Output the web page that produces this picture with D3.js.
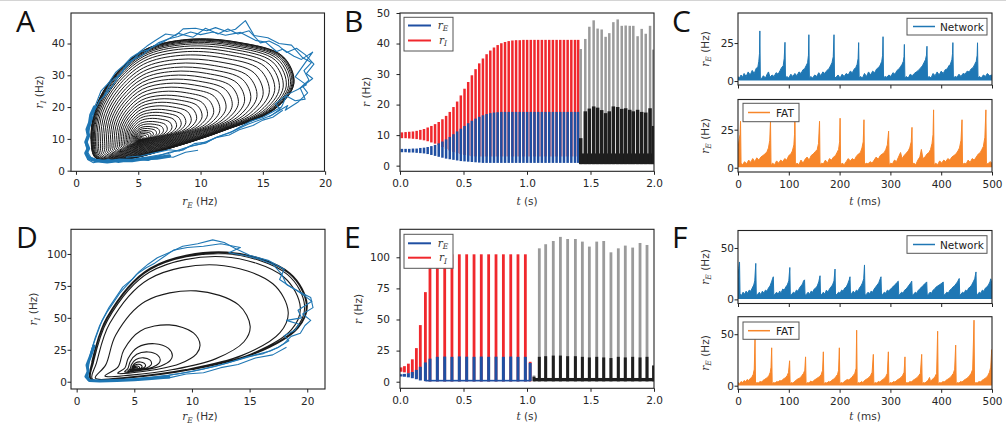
<!DOCTYPE html>
<html>
<head>
<meta charset="utf-8">
<script src="https://cdn.jsdelivr.net/npm/d3@7"></script>
<style>
  body { margin: 0; background: #fff; }
</style>
</head>
<body>
<svg id="fig" width="1006" height="431"></svg>
<script>
// ---------- data ----------

// A / D : phase plane, limit-cycle outline (counter-clockwise) and spiral turn sizes
var aShapeE = [1.6, 4.0, 8.0, 12.0, 16.0, 17.5, 16.6, 13.0, 9.0, 5.5, 3.0, 1.6, 1.2];
var aShapeI = [3.9, 3.6, 7.6, 12.8, 19.5, 27.5, 36.0, 40.4, 41.3, 38.0, 29.5, 20.0, 10.0];
var aCenter = [5.1, 9.8];
var aTurns = [0.01, 0.02, 0.03, 0.045, 0.06, 0.075, 0.09, 0.11, 0.13, 0.155, 0.18, 0.21, 0.24, 0.27,
  0.30, 0.335, 0.37, 0.405, 0.44, 0.48, 0.52, 0.56, 0.60, 0.64, 0.68, 0.72, 0.76, 0.80, 0.84, 0.875,
  0.905, 0.93, 0.95, 0.965, 0.977, 0.986, 0.993, 0.998, 1.0];

var dShapeE = [1.2, 4.5, 10.0, 15.5, 19.2, 20.0, 18.5, 13.0, 6.4, 2.6, 1.3];
var dShapeI = [2.0, 3.0, 9.5, 22.0, 42.0, 60.0, 85.0, 101.5, 89.0, 50.0, 15.0];
var dCenter = [5.0, 9.5];
var dTurns = [0.012, 0.02, 0.03, 0.045, 0.065, 0.1, 0.15, 0.22, 0.38, 0.67, 0.89, 0.96, 0.985, 0.995, 1.0];

// noisy network trajectories [rE, rI]
var aNoisy = [
  [[1.0,4.5],[2.0,2.8],[3.0,3.2],[4.2,3.0],[5.5,4.0],[6.5,4.5],[7.5,5.8],[8.6,6.5],[9.5,8.5],[10.5,9.0],[11.5,10.8],[12.4,12.0],[13.2,13.8],[14.0,15.5],[15.0,16.8],[15.8,18.5],[16.5,20.0],[16.9,23.5],[17.6,22.0],[18.4,22.5],[18.0,26.0],[18.7,28.5],[18.3,31.5],[18.9,34.0],[18.2,35.5],[17.3,39.5],[16.3,40.0],[15.4,41.8],[14.3,42.5],[13.6,47.2],[12.8,44.5],[12.1,43.8],[11.2,45.0],[10.5,44.0],[9.6,44.8],[8.6,44.6],[8.0,42.5],[7.2,43.0],[6.4,41.0],[5.7,39.2],[5.0,37.0],[4.4,35.5],[3.8,33.0],[3.2,31.0],[2.6,27.5],[2.0,25.0],[1.6,21.0],[1.2,17.0],[1.0,12.0],[0.8,8.0],[1.0,4.5]],
  [[1.3,3.5],[2.5,2.6],[3.8,3.4],[5.0,3.6],[6.2,4.6],[7.4,5.4],[8.8,7.2],[10.0,8.4],[11.3,10.5],[12.6,12.4],[13.8,14.6],[14.9,16.2],[15.7,17.4],[16.4,19.4],[16.0,21.0],[17.0,24.0],[17.8,25.5],[18.5,27.0],[17.6,29.5],[19.0,37.3],[18.1,35.0],[17.5,36.0],[16.6,38.2],[16.1,37.5],[15.2,40.5],[14.4,41.0],[13.2,43.5],[12.0,42.6],[11.0,43.6],[10.0,42.8],[9.2,43.6],[8.2,42.2],[7.4,41.4],[6.6,40.2],[5.8,38.0],[5.2,37.4],[4.6,35.0],[3.9,32.0],[3.4,29.5],[2.9,26.5],[2.4,24.0],[1.9,22.0],[1.5,19.0],[1.2,15.0],[0.9,10.5],[0.9,6.0],[1.3,3.5]],
  [[15.5,17.0],[16.2,18.6],[17.0,20.5],[16.8,19.0],[17.8,21.5],[18.6,24.5],[18.2,26.5],[19.0,29.0],[18.5,30.5],[19.1,33.5],[18.4,36.5],[17.7,38.5],[16.9,37.2],[16.3,39.2],[15.5,40.8],[14.8,40.2],[13.9,44.0],[13.0,43.0],[12.2,44.6],[11.4,43.0],[10.4,44.8],[9.4,42.0],[8.2,43.2],[7.0,40.5],[6.0,38.6],[5.3,36.2],[4.2,34.2],[3.6,30.5],[2.8,28.0],[2.2,23.0]],
  [[4.0,4.2],[5.2,4.6],[6.3,5.6],[7.5,6.6],[8.3,6.2],[9.2,7.8],[10.4,8.6],[11.2,10.4],[12.3,11.2],[13.1,12.9],[14.2,14.2],[15.0,15.9],[15.8,16.8],[16.6,19.0]],
  [[0.9,3.6],[1.4,2.5],[2.6,3.6],[3.4,2.6],[4.6,3.5],[5.8,3.2],[6.8,4.6],[7.8,4.2],[8.8,5.8],[9.8,6.4]]
];
var aBand = [[7.5,4.6],[6.5,4.0],[5.5,3.8],[4.5,3.2],[3.5,3.3],[2.5,2.8],[1.6,3.2],[1.0,3.9],[0.8,5.5],[1.0,7.0],[0.8,9.0],[1.0,11.0],[0.9,13.0],[1.1,15.0],[1.2,17.5],[1.5,20.0]];

var dNoisy = [
  [[1.0,1.0],[2.5,0.8],[4.0,1.5],[6.0,3.0],[8.0,5.0],[10.0,8.0],[12.0,12.0],[14.0,17.0],[15.5,21.0],[16.8,24.0],[17.5,27.0],[18.4,32.0],[18.0,36.0],[18.9,40.0],[19.3,45.0],[18.2,48.0],[19.5,50.0],[19.2,56.0],[20.4,63.0],[19.8,67.0],[19.0,72.0],[18.2,76.0],[17.8,84.0],[17.0,92.0],[15.8,96.0],[14.5,99.0],[13.2,101.0],[14.2,105.0],[12.5,108.0],[11.0,106.0],[9.6,105.0],[8.4,103.0],[7.6,98.0],[6.8,93.0],[6.0,89.0],[5.2,84.0],[4.6,78.0],[3.8,70.0],[3.2,62.0],[2.6,54.0],[2.0,44.0],[1.6,34.0],[1.2,22.0],[1.0,10.0],[1.0,1.0]],
  [[1.2,0.6],[3.0,1.2],[5.0,2.0],[7.0,3.8],[9.0,6.4],[11.0,10.0],[13.0,14.5],[14.8,19.5],[16.2,22.0],[17.4,26.5],[18.0,30.0],[18.6,35.5],[19.4,38.0],[19.8,44.0],[20.3,48.0],[19.6,53.0],[20.5,58.0],[20.3,66.0],[19.4,70.0],[18.6,74.0],[17.6,80.0],[18.0,88.0],[16.6,95.0],[15.0,99.0],[13.8,104.0],[12.8,109.0],[11.8,111.0],[10.5,108.0],[9.2,106.0],[8.0,101.0],[7.0,97.0],[6.2,92.0],[5.4,86.0],[4.8,80.0],[4.0,74.0],[3.4,66.0],[2.8,58.0],[2.2,48.0],[1.8,38.0],[1.4,28.0],[1.0,15.0],[0.9,5.0],[1.2,0.6]],
  [[2.0,0.3],[3.5,1.6],[5.0,1.0],[6.5,3.2],[8.0,3.0],[9.5,6.0],[11.0,7.0],[12.5,11.0],[14.0,13.5],[15.5,18.5],[17.0,21.0],[18.2,27.0]]
];
var dBand = [[8.0,3.6],[6.5,2.6],[5.0,1.6],[3.5,1.0],[2.0,0.6],[1.1,1.0],[0.8,4.0],[1.0,8.0],[0.9,13.0],[1.2,20.0],[1.5,28.0]];

// B : mean-field cycles (time s, per-cycle max/min in Hz)
var bCycleT = [0.015,0.044,0.073,0.102,0.131,0.160,0.189,0.218,0.247,0.276,0.305,0.334,0.363,0.392,0.421,0.450,0.479,0.508,0.537,0.566,0.595,0.624,0.653,0.682,0.711,0.740,0.769,0.798,0.827,0.856,0.885,0.914,0.943,0.972,1.001,1.030,1.059,1.088,1.117,1.146,1.175,1.204,1.233,1.262,1.291,1.320,1.349,1.378,1.403];
var bIMax = [10.9,11.0,11.1,11.2,11.4,11.7,12.0,12.5,13.0,13.6,14.3,15.2,16.3,17.6,19.2,21.0,23.0,25.2,27.4,29.6,31.6,33.5,35.1,36.5,37.7,38.7,39.5,40.1,40.5,40.8,41.0,41.1,41.1,41.2,41.2,41.2,41.2,41.2,41.2,41.2,41.2,41.2,41.2,41.2,41.2,41.2,41.2,41.2,41.2];
var bIMin = [9.0,9.0,8.9,8.8,8.7,8.5,8.3,8.0,7.6,7.2,6.7,6.1,5.5,5.0,4.5,4.1,3.8,3.5,3.3,3.1,3,3,3,3,3,3,3,3,3,3,3,3,3,3,3,3,3,3,3,3,3,3,3,3,3,3,3,3,3];
var bEMax = [5.5,5.5,5.5,5.6,5.6,5.8,5.9,6.1,6.4,6.8,7.3,7.9,8.6,9.4,10.3,11.2,12.1,13.0,13.9,14.7,15.4,16.0,16.5,16.9,17.2,17.4,17.5,17.6,17.6,17.6,17.6,17.6,17.6,17.6,17.6,17.6,17.6,17.6,17.6,17.6,17.6,17.6,17.6,17.6,17.6,17.6,17.6,17.6,17.6];
var bEMin = [4.4,4.4,4.3,4.3,4.2,4.1,4.0,3.8,3.5,3.2,2.9,2.6,2.3,2.1,1.9,1.7,1.5,1.4,1.3,1.2,1.1,1.0,0.9,0.9,0.9,0.9,0.9,0.9,0.9,0.9,0.9,0.9,0.9,0.9,0.9,0.9,0.9,0.9,0.9,0.9,0.9,0.9,0.9,0.9,0.9,0.9,0.9,0.9,0.9];
// B : network cycles
var bNetT = [1.423,1.459,1.491,1.525,1.556,1.588,1.619,1.648,1.680,1.714,1.746,1.777,1.809,1.837,1.871,1.903,1.935,1.969,1.995];
var bNetIMax = [38.2,41.5,45.5,47.6,44.9,44.6,42.2,43.4,47.0,47.9,45.8,45.9,45.8,45.8,42.4,44.8,43.2,45.8,38.0];
var bNetEMax = [9.0,17.8,18.7,19.4,19.0,18.2,17.2,17.8,19.4,19.2,18.6,18.8,18.3,17.8,18.3,17.6,17.4,18.8,13.0];

// E : mean-field cycles
var eCycleT = [0.008,0.035,0.066,0.097,0.129,0.160,0.200,0.236,0.294,0.352,0.409,0.467,0.525,0.583,0.640,0.698,0.756,0.814,0.872,0.929,0.987,1.025];
var eIMax = [11.5,12.5,14.5,18.0,27.0,45.5,72.0,93.0,102.4,102.4,102.4,102.4,102.4,102.4,102.4,102.4,102.4,102.4,102.4,102.4,102.4,16.0];
var eIMin = [8.0,7.5,6.5,5.0,3.0,1.5,0.5,0.2,0.2,0.2,0.2,0.2,0.2,0.2,0.2,0.2,0.2,0.2,0.2,0.2,0.2,0.2];
var eEMax = [6.0,6.3,6.8,7.8,9.5,12.0,15.5,18.5,20.0,20.2,20.0,20.3,20.1,20.0,20.2,20.0,20.1,20.0,20.2,20.0,20.0,15.0];
var eEMin = [4.2,4.0,3.5,2.8,2.0,1.0,0.5,0.3,0.3,0.3,0.3,0.3,0.3,0.3,0.3,0.3,0.3,0.3,0.3,0.3,0.3,0.5];
// E : network cycles
var eNetT = [1.055,1.097,1.147,1.207,1.263,1.320,1.381,1.436,1.491,1.549,1.604,1.661,1.719,1.774,1.832,1.890,1.945,1.997];
var eNetIMax = [5.0,107.2,110.5,113.1,116.4,114.7,114.7,112.6,108.6,112.6,113.1,104.0,107.2,109.4,107.8,111.5,109.9,13.0];
var eNetEMax = [4.0,20.0,20.5,21.0,21.0,20.5,20.5,20.0,19.5,20.0,19.5,19.0,20.0,19.5,20.0,19.5,20.0,13.0];

// C / F : rE traces [t ms, upper envelope Hz]
var cNet = [[0,3],[3,2],[6,4],[9,2.5],[12,5],[16,3],[20,6],[24,4],[28,7],[32,5],[36,8.5],[39,9],[41,13],[42.3,18],[43,33],[44,2],[46,1.5],[50,3.5],[54,2],[58,5],[60,6],[63,2.5],[67,4],[71,3],[75,5.5],[79,4.5],[83,7],[86,9],[89,10],[91,15],[92.5,25.5],[93.5,2],
  [96,3],[100,2],[104,4.5],[108,3],[112,5],[116,3.5],[120,6],[124,5],[128,7.5],[131,8],[134,10],[137,12],[138.7,17],[139.5,30.5],[140.5,1.5],
  [143,3],[147,2],[151,4],[155,3],[159,5.5],[163,3.5],[167,6],[171,5],[175,7],[179,8],[182,10],[185,12],[187.5,16],[189,30.5],[190,2],
  [193,2.5],[197,4],[201,2],[205,4.5],[209,3],[213,5],[217,4],[221,6.5],[225,5.5],[229,8],[232,9],[234.5,11],[236.5,15],[237.5,25.3],[238.5,2],
  [241,3],[245,2],[249,5],[253,3],[257,6],[261,4],[265,6.5],[269,5.5],[273,8],[277,9],[280,10.5],[283,13],[284.7,17],[285.5,29.2],[286.5,1.5],
  [289,3],[293,2.5],[297,4],[301,3],[305,5.5],[309,4.5],[313,7],[317,8],[320,9.5],[323,11],[325.5,13],[326.8,16],[327.5,24.1],[328.5,2],
  [331,3],[335,2],[339,4.5],[343,3.5],[347,5],[351,6],[355,7],[359,8.5],[363,10],[366,12],[369,14],[371,17],[372,22.9],[373,2],
  [376,3],[380,2],[384,5],[388,3.5],[392,6],[396,4],[400,6.5],[404,5],[408,7.5],[412,8],[415,10],[418,11],[421,14],[422.3,18],[423,25.3],[424,2],
  [427,3],[431,2.5],[435,4.5],[439,3],[443,5],[447,4.5],[451,6.5],[455,6],[459,8],[463,9],[466,11],[469,13],[470.8,17],[471.5,25.2],[472.5,2],
  [475,3],[479,2],[483,4],[487,3],[491,5],[495,3.5],[500,4]];
var cFat = [[0,12],[2,18],[4,22],[5,30.5],[6,3],[9,2],[13,4],[17,2.5],[21,5],[25,3.5],[29,6],[33,4],[37,6.5],[41,5],[45,7],[49,8],[53,9],[57,10.5],[60,13],[62.5,18],[64,31],[65,2],
  [68,3],[72,2],[76,4.5],[80,3],[84,5],[88,4],[92,6],[96,5],[100,8],[104,9],[107,11],[110,15],[111.3,22],[112,40],[113,2],
  [116,3],[120,2],[124,5],[128,3],[132,5.5],[136,7],[140,5],[144,8],[148,9],[152,10.5],[156,12],[158.5,16],[160.5,30.5],[161.5,2],
  [164,3],[168,2.5],[172,5],[176,3],[180,6],[184,5],[188,7],[192,8],[195,10],[198,12],[200,17],[201,32.5],[202,2],
  [205,3],[209,2],[213,4],[217,6],[221,4.5],[225,6],[229,5],[233,7.5],[237,9],[241,10],[244,13],[246.5,17],[248,31.5],[249,2],
  [252,3],[256,2.5],[260,4],[264,3],[268,5],[272,7],[276,5.5],[280,8],[284,9],[288,10],[291,12],[294,15],[296.5,24],[297.5,2],
  [300,3],[304,2.5],[308,5],[312,4],[316,7],[320,10],[323,6],[327,8],[331,9.5],[335,11],[338,13],[341,17],[342.5,26.5],[343.5,2],
  [346,3],[350,2],[354,5],[358,7],[361,12],[364,6],[368,7],[372,9],[376,10],[379,12],[382,16],[384,22],[385,38],[386,2],
  [389,3],[393,2],[397,4.5],[401,3],[405,5],[409,4],[413,6],[417,5],[421,7],[425,8],[429,9],[433,11],[436,13],[439,18],[441,31.5],[442,2],
  [445,3],[449,2.5],[453,5],[457,3.5],[461,6],[465,5],[469,7],[473,9],[477,10],[480,12],[483,14],[486,20],[488,38],[489,3],
  [492,2.5],[496,4],[500,3]];
var fNet = [[0,20],[1.5,30],[3,36.4],[4,5],[7,4],[10,7],[13,5],[16,8],[19,6],[22,9],[25,8],[28,11],[31,14],[33,18],[35,35],[36,4],
  [39,5],[42,7],[45,4.5],[48,8],[51,6],[54,9],[57,8],[60,11],[63,13],[66,17],[68,20],[69.5,22],[70.5,4],
  [73,5],[76,7],[79,5],[82,8],[85,6.5],[88,10],[91,9],[94,12],[97,14],[100,18],[102,31],[103,4],
  [106,5],[109,7],[112,6],[115,9],[118,8],[121,11],[124,13],[127,15],[129,18],[131,19],[132,4],
  [135,5],[138,7],[141,5],[144,8],[147,7],[150,10],[153,11],[156,13],[159,17],[161.5,23],[162.5,4],
  [165,5],[168,7],[171,5],[174,9],[177,7],[180,10],[183,12],[186,14],[189,18],[191,29.5],[192,4],
  [195,5],[198,7],[201,6],[204,9],[207,8],[210,11],[213,12],[216,15],[219,19],[220.5,22],[221.5,4],
  [224,6],[227,8],[230,6],[233,9],[236,8],[239,11],[242,13],[245,16],[247.5,20],[249,33.5],[250,4],
  [253,5],[256,7],[259,5.5],[262,8],[265,7],[268,10],[271,12],[274,14],[277,16],[280,20],[281.5,22],[282.5,4],
  [285,5],[288,7],[291,6],[294,9],[297,8],[300,10],[303,11],[306,13],[309,14],[312,16],[315.5,17.7],[316.5,4],
  [319,5],[322,7],[325,6],[328,9],[331,10],[334,12],[337,14],[340,16],[342,17.7],[343,4],
  [346,5],[349,7],[352,6],[355,9],[358,10],[361,12],[364,13],[367,15],[370,16],[371.5,17],[372.5,4],
  [375,5],[378,7],[381,6],[384,9],[387,10],[390,12],[393,13],[396,14],[399,15],[402,16],[404,17],[405,4],
  [408,5],[411,7],[414,6],[417,9],[420,10],[423,12],[426,13],[429,15],[432,17],[435.5,20.3],[436.5,4],
  [439,5],[442,7],[445,6],[448,9],[451,8],[454,11],[457,12],[460,14],[463,17],[466,20],[468.5,26.7],[469.5,4],
  [472,5],[475,7],[478,6],[481,9],[484,8],[487,11],[490,12],[493,14],[496,17],[497.5,20],[500,15]];
var fFat = [[0,3],[3,2],[6,4],[9,3],[12,5],[15,4],[18,6],[21,5],[24,7],[27,8],[30,11],[32,16],[33.5,45.9],[34.5,2],
  [37,3],[40,2.5],[43,4],[46,3.5],[49,5],[52,6],[55,7],[58,8],[61,10],[63.5,13],[65,18],[66.3,36.8],[67.3,2],
  [70,3],[73,2.5],[76,4],[79,3.5],[82,5],[85,4.5],[88,6],[91,7],[94,8],[97,10],[99.5,13],[101.6,24.2],[102.6,2],
  [105,3],[108,2.5],[111,4],[114,5],[117,6.5],[120,7],[123,8],[126,10],[129,12],[131.5,15],[133,28],[134,2],
  [137,3],[140,2.5],[143,4.5],[146,3.5],[149,5],[152,6],[155,7],[158,8],[161,9],[164,11],[166.5,15],[168,32.9],[169,2],
  [172,3],[175,2.5],[178,4],[181,3.5],[184,5],[187,6],[190,7],[193,9],[196,11],[198,15],[199.5,36.8],[200.5,2],
  [203,3],[206,2.5],[209,4],[212,5],[215,6],[218,5.5],[221,7],[224,8],[227,10],[230,12],[232.5,17],[233.6,53.9],[234.6,2],
  [237,3],[240,2.5],[243,4],[246,3],[249,5],[252,6],[255,7],[258,8],[261,10],[264,13],[266.4,30.4],[267.4,2],
  [270,3],[273,2.5],[276,4],[279,3.5],[282,5],[285,6],[288,7],[291,9],[294,12],[296,32.9],[297,2],
  [300,3],[303,2.5],[306,4],[309,3.5],[312,5],[315,6],[318,7],[321,8],[324,10],[327,13],[328.7,28],[329.7,2],
  [332,3],[335,2.5],[338,4],[341,3.5],[344,5],[347,6],[350,7],[353,8],[356,10],[359,12],[361.6,30.4],[362.6,2],
  [365,3],[368,2.5],[371,4],[374,5],[377,8],[379,4],[382,6],[385,7],[388,9],[391,12],[393,52.9],[394,2],
  [397,3],[400,2.5],[403,4],[406,3.5],[409,5],[412,6],[415,7],[418,8],[421,10],[424,12],[426.5,16],[428.5,39.4],[429.5,2],
  [432,3],[435,2.5],[438,4],[441,3.5],[444,5],[447,6],[450,7],[453,8],[456,10],[459,12],[462,16],[464.6,63.6],[465.6,2],
  [468,3],[471,2.5],[474,4],[477,3.5],[480,5],[483,6],[486,7],[489,8],[492,10],[495,13],[497.5,18],[499.4,35],[500,30]];

// tick values
var ticksA_x = [0, 5, 10, 15, 20], ticksA_y = [0, 10, 20, 30, 40];
var ticksB_x = [0, 0.5, 1, 1.5, 2], ticksB_y = [0, 10, 20, 30, 40, 50];
var ticksC_x = [0, 100, 200, 300, 400, 500], ticksC_y = [0, 25];
var ticksD_x = [0, 5, 10, 15, 20], ticksD_y = [0, 25, 50, 75, 100];
var ticksE_y = [0, 25, 50, 75, 100];
var ticksF_y = [0, 50];

// ---------- drawing ----------
var blueA = '#1f77b4', blueB = '#1f4fa2', redB = '#f0282d', greyB = '#9b9b9b', blackB = '#1e1e1e', orange = '#f7862a';
var svg = d3.select('#fig');
var clipN = 0;

svg.append('rect').attr('x', 0).attr('y', 0).attr('width', 1006).attr('height', 1).attr('fill', '#d4d4d4');

function makePanel(box, xDom, yDom) {
    var x = d3.scaleLinear().domain(xDom).range([box.x0, box.x1]);
    var y = d3.scaleLinear().domain(yDom).range([box.y1, box.y0]);
    var id = 'clip' + (clipN++);
    svg.append('clipPath').attr('id', id).append('rect')
        .attr('x', box.x0).attr('y', box.y0)
        .attr('width', box.x1 - box.x0).attr('height', box.y1 - box.y0);
    var g = svg.append('g').attr('clip-path', 'url(#' + id + ')');
    return { x: x, y: y, g: g, box: box };
}

function drawAxes(p, xTicks, yTicks, xFmt, showX, yPad) {
    var xa = d3.axisBottom(p.x).tickValues(xTicks).tickSizeInner(3.5).tickSizeOuter(0).tickPadding(5)
        .tickFormat(showX ? xFmt : function() { return ''; });
    var gx = svg.append('g').attr('transform', 'translate(0,' + p.box.y1 + ')').call(xa);
    var ya = d3.axisLeft(p.y).tickValues(yTicks).tickSizeInner(3.5).tickSizeOuter(0).tickPadding(yPad)
        .tickFormat(d3.format('d'));
    var gy = svg.append('g').attr('transform', 'translate(' + p.box.x0 + ',0)').call(ya);
    [gx, gy].forEach(function(g) {
        g.select('.domain').remove();
        g.selectAll('line').attr('stroke', '#222').attr('stroke-width', 1);
        g.selectAll('text').attr('font-family', 'DejaVu Sans').attr('font-size', 10.5).attr('fill', '#262626');
    });
    svg.append('rect')
        .attr('x', p.box.x0).attr('y', p.box.y0)
        .attr('width', p.box.x1 - p.box.x0).attr('height', p.box.y1 - p.box.y0)
        .attr('fill', 'none').attr('stroke', '#222').attr('stroke-width', 1.1);
}

// math-style label: italic symbol, optional italic subscript, then plain text
function mathText(parent, x, y, sym, sub, rest, rotate) {
    var t = parent.append('text')
        .attr('font-family', 'DejaVu Sans').attr('font-size', 10.5).attr('fill', '#333')
        .attr('text-anchor', 'middle');
    if (rotate) t.attr('transform', 'translate(' + x + ',' + y + ') rotate(-90)');
    else t.attr('x', x).attr('y', y);
    t.append('tspan').attr('font-family', 'DejaVu Serif').attr('font-style', 'italic').text(sym);
    if (sub) {
        t.append('tspan').attr('font-family', 'DejaVu Serif').attr('font-style', 'italic')
            .attr('font-size', 7.5).attr('dy', 2.5).text(sub);
        t.append('tspan').attr('dy', -2.5).text(rest);
    } else {
        t.append('tspan').text(rest);
    }
    return t;
}

function letter(x, y, s) {
    svg.append('text').attr('x', x).attr('y', y).text(s)
        .attr('font-family', 'Open Sans').attr('font-size', 30).attr('fill', '#111');
}

function spiral(p, shapeE, shapeI, c, turns, width) {
    var pts = [];
    turns.forEach(function(s) {
        shapeE.forEach(function(e, i) {
            pts.push([c[0] + s * (e - c[0]), c[1] + s * (shapeI[i] - c[1])]);
        });
    });
    var line = d3.line().x(d => p.x(d[0])).y(d => p.y(d[1])).curve(d3.curveCatmullRom.alpha(0.5));
    p.g.append('path').attr('d', line(pts)).attr('fill', 'none')
        .attr('stroke', '#1a1a1a').attr('stroke-width', width);
}

function noisyPaths(p, paths, band, bandWidth) {
    var line = d3.line().x(d => p.x(d[0])).y(d => p.y(d[1]));
    p.g.append('path').attr('d', line(band)).attr('fill', 'none').attr('stroke', blueA)
        .attr('stroke-width', bandWidth).attr('stroke-linejoin', 'round').attr('stroke-linecap', 'round');
    paths.forEach(function(pts) {
        p.g.append('path').attr('d', line(pts)).attr('fill', 'none')
            .attr('stroke', blueA).attr('stroke-width', 1.1).attr('stroke-linejoin', 'round');
    });
}

function bars(p, ts, lo, hi, color, w) {
    p.g.selectAll(null).data(ts).enter().append('rect')
        .attr('x', d => p.x(d) - w / 2).attr('width', w)
        .attr('y', (d, i) => p.y(hi(i)))
        .attr('height', (d, i) => Math.max(0.5, p.y(lo(i)) - p.y(hi(i))))
        .attr('fill', color);
}

function trace(p, data, color) {
    var area = d3.area().x(d => p.x(d[0])).y0(p.y(0.3)).y1(d => p.y(d[1]));
    var line = d3.line().x(d => p.x(d[0])).y(d => p.y(d[1]));
    p.g.append('path').attr('d', area(data)).attr('fill', color);
    p.g.append('path').attr('d', line(data)).attr('fill', 'none').attr('stroke', color).attr('stroke-width', 1);
}

function legendBox(x, y, w, h) {
    svg.append('rect').attr('x', x).attr('y', y).attr('width', w).attr('height', h)
        .attr('fill', '#fff').attr('stroke', '#555').attr('stroke-width', 1);
}

// ----- A -----
var pA = makePanel({ x0: 71, x1: 324.5, y0: 13, y1: 171.3 }, [-0.4, 19.95], [-0.2, 49.6]);
spiral(pA, aShapeE, aShapeI, aCenter, aTurns, 1.0);
noisyPaths(pA, aNoisy, aBand, 3.5);
drawAxes(pA, ticksA_x, ticksA_y, d3.format('d'), true, 2.5);
mathText(svg, 200, 205, 'r', 'E', ' (Hz)', false);
mathText(svg, 43, 92, 'r', 'I', ' (Hz)', true);
letter(16, 32, 'A');

// ----- B -----
var pB = makePanel({ x0: 400, x1: 654, y0: 13, y1: 171.3 }, [0, 2], [-1.85, 50]);
bars(pB, bCycleT, i => bIMin[i], i => bIMax[i], redB, 2.5);
bars(pB, bCycleT, i => bEMin[i], i => bEMax[i], blueB, 2.5);
bars(pB, bNetT, i => 1, i => bNetIMax[i], greyB, 2.5);
pB.g.append('rect').attr('x', pB.x(1.415)).attr('width', pB.x(2) - pB.x(1.415))
    .attr('y', pB.y(4)).attr('height', pB.y(0.5) - pB.y(4)).attr('fill', blackB);
bars(pB, bNetT, i => 0.5, i => bNetEMax[i], blackB, 3.5);
drawAxes(pB, ticksB_x, ticksB_y, d3.format('.1f'), true, 6.5);
mathText(svg, 527, 205, 't', null, ' (s)', false);
mathText(svg, 369.5, 92, 'r', null, ' (Hz)', true);
legendBox(404, 17.3, 49, 33.7);
svg.append('line').attr('x1', 408).attr('x2', 431).attr('y1', 25.5).attr('y2', 25.5).attr('stroke', blueB).attr('stroke-width', 2);
svg.append('line').attr('x1', 408).attr('x2', 431).attr('y1', 40.5).attr('y2', 40.5).attr('stroke', redB).attr('stroke-width', 2);
mathText(svg, 443, 28.5, 'r', 'E', '', false);
mathText(svg, 443, 43.5, 'r', 'I', '', false);
letter(344, 32, 'B');

// ----- C -----
var pC1 = makePanel({ x0: 738, x1: 992, y0: 13, y1: 85 }, [0, 500], [-2.6, 44.8]);
trace(pC1, cNet, blueA);
drawAxes(pC1, ticksC_x, ticksC_y, d3.format('d'), false, 0.5);
var pC2 = makePanel({ x0: 738, x1: 992, y0: 99.5, y1: 172 }, [0, 500], [-2.8, 44.8]);
trace(pC2, cFat, orange);
drawAxes(pC2, ticksC_x, ticksC_y, d3.format('d'), true, 0.5);
mathText(svg, 708.5, 49, 'r', 'E', ' (Hz)', true);
mathText(svg, 708.5, 136, 'r', 'E', ' (Hz)', true);
mathText(svg, 865, 205, 't', null, ' (ms)', false);
legendBox(907, 18.3, 80, 16.7);
svg.append('line').attr('x1', 913).attr('x2', 935).attr('y1', 26.5).attr('y2', 26.5).attr('stroke', blueA).attr('stroke-width', 1.5);
svg.append('text').attr('x', 940).attr('y', 30.5).text('Network').attr('font-family', 'DejaVu Sans').attr('font-size', 10.5).attr('fill', '#222');
legendBox(743, 103.3, 56, 18.4);
svg.append('line').attr('x1', 748).attr('x2', 770).attr('y1', 112.5).attr('y2', 112.5).attr('stroke', orange).attr('stroke-width', 1.5);
svg.append('text').attr('x', 776).attr('y', 116.5).text('FAT').attr('font-family', 'DejaVu Sans').attr('font-size', 10.5).attr('fill', '#222');
letter(672, 32, 'C');

// ----- D -----
var pD = makePanel({ x0: 71, x1: 325, y0: 229.3, y1: 389 }, [-0.49, 21.54], [-5.7, 119.3]);
spiral(pD, dShapeE, dShapeI, dCenter, dTurns, 1.1);
noisyPaths(pD, dNoisy, dBand, 3);
drawAxes(pD, ticksD_x, ticksD_y, d3.format('d'), true, 0.5);
mathText(svg, 200, 420, 'r', 'E', ' (Hz)', false);
mathText(svg, 37, 309, 'r', 'I', ' (Hz)', true);
letter(16, 248, 'D');

// ----- E -----
var pE = makePanel({ x0: 400, x1: 654, y0: 229.3, y1: 388.3 }, [0, 2], [-5.3, 122.5]);
bars(pE, eCycleT, i => eIMin[i], i => eIMax[i], redB, 2.8);
pE.g.append('rect').attr('x', pE.x(0.2)).attr('width', pE.x(1.03) - pE.x(0.2))
    .attr('y', pE.y(1.5)).attr('height', pE.y(0.2) - pE.y(1.5)).attr('fill', blueB);
bars(pE, eCycleT, i => eEMin[i], i => eEMax[i], blueB, 3);
bars(pE, eNetT, i => 1, i => eNetIMax[i], greyB, 2.8);
pE.g.append('rect').attr('x', pE.x(1.05)).attr('width', pE.x(2) - pE.x(1.05))
    .attr('y', pE.y(3)).attr('height', pE.y(0.3) - pE.y(3)).attr('fill', blackB);
bars(pE, eNetT, i => 0.3, i => eNetEMax[i], blackB, 3);
drawAxes(pE, ticksB_x, ticksE_y, d3.format('.1f'), true, 6.5);
mathText(svg, 527, 420, 't', null, ' (s)', false);
mathText(svg, 362, 309, 'r', null, ' (Hz)', true);
legendBox(404, 234.3, 49, 34);
svg.append('line').attr('x1', 408).attr('x2', 431).attr('y1', 243.3).attr('y2', 243.3).attr('stroke', blueB).attr('stroke-width', 2);
svg.append('line').attr('x1', 408).attr('x2', 431).attr('y1', 257.7).attr('y2', 257.7).attr('stroke', redB).attr('stroke-width', 2);
mathText(svg, 443, 246.5, 'r', 'E', '', false);
mathText(svg, 443, 261, 'r', 'I', '', false);
letter(344, 248, 'E');

// ----- F -----
var pF1 = makePanel({ x0: 738, x1: 992, y0: 230.5, y1: 303.5 }, [0, 500], [-4, 67]);
trace(pF1, fNet, blueA);
drawAxes(pF1, ticksC_x, ticksF_y, d3.format('d'), false, 0.5);
var pF2 = makePanel({ x0: 738, x1: 992, y0: 316.7, y1: 389.3 }, [0, 500], [-3.5, 67]);
trace(pF2, fFat, orange);
drawAxes(pF2, ticksC_x, ticksF_y, d3.format('d'), true, 0.5);
mathText(svg, 708.5, 267, 'r', 'E', ' (Hz)', true);
mathText(svg, 708.5, 353, 'r', 'E', ' (Hz)', true);
mathText(svg, 865, 420, 't', null, ' (ms)', false);
legendBox(907, 235.7, 80, 17.6);
svg.append('line').attr('x1', 913).attr('x2', 935).attr('y1', 244.5).attr('y2', 244.5).attr('stroke', blueA).attr('stroke-width', 1.5);
svg.append('text').attr('x', 940).attr('y', 248.5).text('Network').attr('font-family', 'DejaVu Sans').attr('font-size', 10.5).attr('fill', '#222');
legendBox(743, 322, 56, 17.3);
svg.append('line').attr('x1', 748).attr('x2', 770).attr('y1', 330.7).attr('y2', 330.7).attr('stroke', orange).attr('stroke-width', 1.5);
svg.append('text').attr('x', 776).attr('y', 334.5).text('FAT').attr('font-family', 'DejaVu Sans').attr('font-size', 10.5).attr('fill', '#222');
letter(672, 248, 'F');
</script>
</body>
</html>
